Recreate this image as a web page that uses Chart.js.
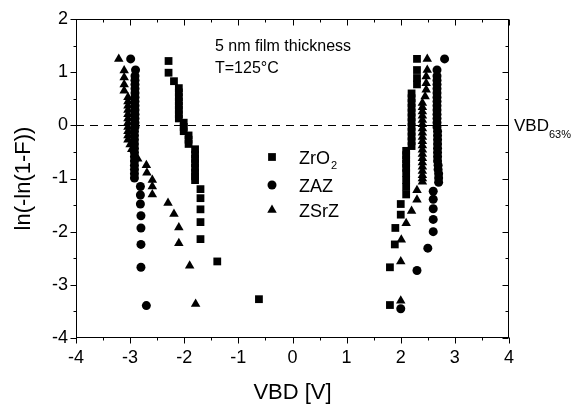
<!DOCTYPE html>
<html>
<head>
<meta charset="utf-8">
<script src="https://cdn.jsdelivr.net/npm/chart.js@4.4.0/dist/chart.umd.min.js"></script>
<style>
  body { margin: 0; background: #fff; }
</style>
</head>
<body>
<canvas id="weibull" width="576" height="407"></canvas>
<script>
// breakdown voltage (V) and Weibull ordinate ln(-ln(1-F)), negative and positive branches
var zro2V = [-2.29, -2.29, -2.19,
  -2.10, -2.10, -2.10, -2.10, -2.10, -2.10, -2.10, -2.10,
  -2.01, -2.01, -2.01, -1.92, -1.92, -1.92,
  -1.80, -1.80, -1.80, -1.80, -1.80, -1.80, -1.80, -1.80,
  -1.70, -1.70, -1.70, -1.70, -1.70, -1.39, -0.62,
  2.30, 2.30, 2.30, 2.30,
  2.20, 2.20, 2.20, 2.20, 2.20, 2.20, 2.20, 2.20, 2.20, 2.20, 2.20, 2.20,
  2.10, 2.10, 2.10, 2.10, 2.10, 2.10, 2.10, 2.10, 2.10,
  2.00, 2.00, 1.90, 1.89, 1.80, 1.80];
var zro2F = [1.21, 0.99, 0.83,
  0.70, 0.62, 0.53, 0.45, 0.37, 0.29, 0.21, 0.13,
  0.05, -0.03, -0.11, -0.19, -0.27, -0.35,
  -0.45, -0.55, -0.63, -0.71, -0.80, -0.89, -0.96, -1.03,
  -1.20, -1.37, -1.58, -1.82, -2.14, -2.56, -3.27,
  1.25, 1.04, 0.89, 0.77,
  0.60, 0.51, 0.42, 0.33, 0.24, 0.15, 0.06, -0.03, -0.12, -0.21, -0.30, -0.39,
  -0.48, -0.56, -0.64, -0.72, -0.80, -0.90, -1.03, -1.16, -1.30,
  -1.48, -1.68, -1.93, -2.24, -2.67, -3.38];

var zazV = [-2.99, -2.90,
  -2.91, -2.91, -2.91, -2.91, -2.91, -2.91, -2.91, -2.91, -2.91, -2.91, -2.91, -2.91, -2.91,
  -2.92, -2.92, -2.92, -2.92, -2.92, -2.92, -2.92, -2.92, -2.92, -2.92, -2.92, -2.92,
  -2.81, -2.81, -2.81, -2.80, -2.80, -2.80, -2.80, -2.70,
  2.81, 2.67,
  2.67, 2.67, 2.67, 2.67, 2.67, 2.67, 2.67, 2.67, 2.67, 2.67, 2.67, 2.67, 2.67,
  2.68, 2.68, 2.68, 2.68, 2.68, 2.68, 2.68, 2.68, 2.69, 2.69, 2.70, 2.70, 2.70,
  2.60, 2.60, 2.60, 2.60, 2.60, 2.50, 2.30, 2.00];
var zazF = [1.25, 1.04,
  0.93, 0.85, 0.77, 0.69, 0.61, 0.53, 0.45, 0.37, 0.29, 0.21, 0.13, 0.05, -0.03,
  -0.11, -0.19, -0.27, -0.35, -0.43, -0.51, -0.59, -0.67, -0.75, -0.83, -0.91, -0.99,
  -1.15, -1.31, -1.48, -1.70, -1.93, -2.24, -2.67, -3.39,
  1.25, 1.04,
  0.93, 0.85, 0.77, 0.69, 0.61, 0.53, 0.45, 0.37, 0.29, 0.21, 0.13, 0.05, -0.03,
  -0.11, -0.19, -0.27, -0.35, -0.43, -0.51, -0.59, -0.67, -0.75, -0.83, -0.91, -0.99, -1.07,
  -1.24, -1.39, -1.57, -1.77, -2.00, -2.31, -2.73, -3.45];

var zsrzV = [-3.21, -3.11, -3.11, -3.11, -3.11,
  -3.04, -3.04, -3.04, -3.04, -3.04, -3.04, -3.04, -3.04, -3.04, -3.04, -3.04,
  -3.00, -2.97, -2.86, -2.70, -2.69, -2.59, -2.59, -2.59,
  -2.30, -2.19, -2.10, -2.10, -1.90, -1.79,
  2.49, 2.49, 2.47, 2.47, 2.47, 2.45,
  2.40, 2.40, 2.40, 2.40, 2.40, 2.40, 2.40, 2.40, 2.40, 2.40,
  2.40, 2.40, 2.40, 2.40, 2.40, 2.40, 2.40, 2.40, 2.40, 2.40,
  2.30, 2.30, 2.20, 2.10, 2.01, 2.00, 2.00];
var zsrzF = [1.25, 1.03, 0.90, 0.77, 0.65,
  0.53, 0.45, 0.37, 0.29, 0.21, 0.13, 0.05, -0.03, -0.11, -0.19, -0.27,
  -0.36, -0.45, -0.63, -0.75, -0.89, -1.03, -1.15, -1.30,
  -1.46, -1.67, -1.92, -2.22, -2.64, -3.36,
  1.25, 1.04, 0.92, 0.79, 0.67, 0.54,
  0.42, 0.34, 0.26, 0.18, 0.10, 0.02, -0.06, -0.14, -0.22, -0.30,
  -0.38, -0.46, -0.54, -0.62, -0.70, -0.78, -0.86, -0.94, -1.00, -1.06,
  -1.22, -1.40, -1.61, -1.84, -2.15, -2.56, -3.30];

var seriesNames = ["ZrO", "ZAZ", "ZSrZ"];
var seriesSub = ["2", "", ""];
var seriesMarkers = ["rect", "circle", "triangle"];
var seriesRadius = [5.5, 4.5, 5.5];
var xRange = [-4, 4];
var yRange = [-4, 2];

var FONT = '"Liberation Sans", Arial, sans-serif';

function pts(xs, ys) {
  var out = [];
  for (var i = 0; i < xs.length; i++) out.push({ x: xs[i], y: ys[i] });
  return out;
}

var allV = [zro2V, zazV, zsrzV];
var allF = [zro2F, zazF, zsrzF];
var datasets = [];
for (var s = 0; s < 3; s++) {
  datasets.push({
    label: seriesNames[s] + seriesSub[s],
    data: pts(allV[s], allF[s]),
    pointStyle: seriesMarkers[s],
    pointRadius: seriesRadius[s],
    pointBackgroundColor: "#000",
    pointBorderWidth: 0,
    showLine: false
  });
}

// frame, inward/outward ticks, reference line and text labels
var decor = {
  id: "decor",
  beforeDatasetsDraw: function (chart) {
    var ctx = chart.ctx, a = chart.chartArea;
    var y0 = Math.round(chart.scales.y.getPixelForValue(0)) + 0.5;
    ctx.save();
    ctx.strokeStyle = "#000";
    ctx.lineWidth = 1;
    ctx.setLineDash([8, 6]);
    ctx.beginPath();
    ctx.moveTo(a.left, y0);
    ctx.lineTo(a.right, y0);
    ctx.stroke();
    ctx.restore();
  },
  afterDraw: function (chart) {
    var ctx = chart.ctx, a = chart.chartArea;
    var xs = chart.scales.x, ys = chart.scales.y;
    var L = Math.round(a.left) + 0.5, R = Math.round(a.right) - 0.5;
    var T = Math.round(a.top) + 0.5, B = Math.round(a.bottom) - 0.5;
    ctx.save();
    ctx.strokeStyle = "#000";
    ctx.lineWidth = 1;
    ctx.strokeRect(L, T, R - L, B - T);
    ctx.beginPath();
    for (var v = xRange[0]; v <= xRange[1] + 1e-9; v += 0.5) {
      var px = Math.round(xs.getPixelForValue(v)) + 0.5;
      var len = Number.isInteger(v) ? 6 : 3;
      ctx.moveTo(px, B); ctx.lineTo(px, B + len);
      ctx.moveTo(px, T); ctx.lineTo(px, T + len);
    }
    for (var w = yRange[0]; w <= yRange[1] + 1e-9; w += 0.5) {
      var py = Math.round(ys.getPixelForValue(w)) + 0.5;
      var ln = Number.isInteger(w) ? 6 : 3;
      ctx.moveTo(L - ln, py); ctx.lineTo(L, py);
      ctx.moveTo(R - ln, py); ctx.lineTo(R, py);
    }
    ctx.stroke();

    ctx.fillStyle = "#000";
    ctx.textBaseline = "alphabetic";
    ctx.textAlign = "left";
    ctx.font = "16px " + FONT;
    ctx.fillText("5 nm film thickness", 215, 51);
    ctx.fillText("T=125\u00b0C", 215, 73);

    // VBD63% label at the end of the dashed line
    ctx.font = "17px " + FONT;
    ctx.fillText("VBD", 514, 131);
    var wV = ctx.measureText("VBD").width;
    ctx.font = "11px " + FONT;
    ctx.fillText("63%", 514 + wV, 138);

    // legend
    var legY = [157, 185, 210];
    for (var s = 0; s < 3; s++) {
      ctx.fillStyle = "#000";
      Chart.helpers.drawPoint(ctx, {
        pointStyle: seriesMarkers[s], radius: seriesRadius[s], rotation: 0, borderWidth: 0
      }, 272, legY[s]);
      ctx.font = "18px " + FONT;
      ctx.fillText(seriesNames[s], 299, legY[s] + 7);
      if (seriesSub[s]) {
        var tw = ctx.measureText(seriesNames[s]).width;
        ctx.font = "11px " + FONT;
        ctx.fillText(seriesSub[s], 299 + tw + 1, legY[s] + 12);
      }
    }

    // axis titles
    ctx.font = "22px " + FONT;
    ctx.textAlign = "center";
    ctx.textBaseline = "middle";
    ctx.fillText("VBD [V]", (a.left + a.right) / 2, 393);
    ctx.translate(24, (a.top + a.bottom) / 2);
    ctx.rotate(-Math.PI / 2);
    ctx.fillText("ln(-ln(1-F))", 0, 0);
    ctx.restore();
  }
};

var chart = new Chart(document.getElementById("weibull"), {
  type: "scatter",
  data: { datasets: datasets },
  options: {
    responsive: false,
    animation: false,
    layout: { padding: { top: 19, right: 67, left: 0, bottom: 0 } },
    plugins: { legend: { display: false }, tooltip: { enabled: false } },
    scales: {
      x: {
        min: xRange[0], max: xRange[1],
        ticks: { stepSize: 1, color: "#000", padding: 9, font: { size: 18, family: FONT } },
        grid: { display: false, drawTicks: false },
        border: { display: false },
        afterFit: function (scale) { scale.height = 69; }
      },
      y: {
        min: yRange[0], max: yRange[1],
        ticks: { stepSize: 1, color: "#000", padding: 8, font: { size: 18, family: FONT } },
        grid: { display: false, drawTicks: false },
        border: { display: false },
        afterFit: function (scale) { scale.width = 76; }
      }
    }
  },
  plugins: [decor]
});
</script>
</body>
</html>
